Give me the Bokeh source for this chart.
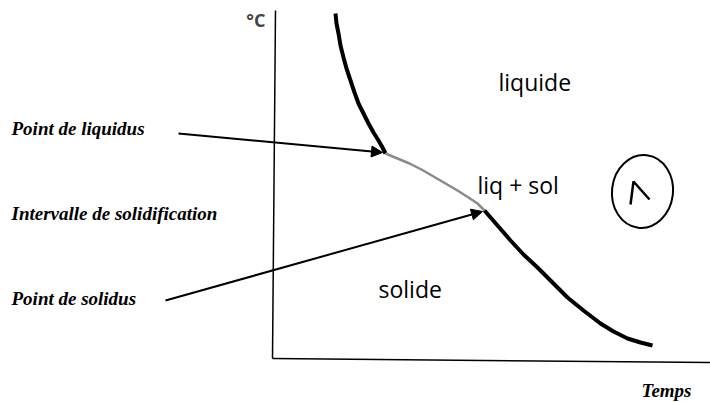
from bokeh.plotting import figure
from bokeh.models import Range1d, Arrow, NormalHead, Label
from bokeh.embed import file_html
from bokeh.resources import INLINE

# Cooling curve (time, temperature in arbitrary units)
liquid_t = [63, 64, 66, 68, 71, 74, 78, 82, 86, 91, 96, 101, 106, 110, 113]
liquid_T = [345, 335, 325, 313, 301, 290, 278, 266, 255, 245, 235, 226, 218, 211, 205]
mushy_t = [113, 125, 137, 149, 161, 173, 185, 196, 205, 212]
mushy_T = [205, 200, 195, 189, 182, 175, 168, 161, 155, 148]
solid_t = [212, 225, 238, 251, 265, 280, 295, 311, 328, 341, 355, 368, 380]
solid_T = [148, 133, 118, 104, 91, 76, 61, 48, 35, 27, 20, 16, 13]

liquidus_pt = (113, 205)
solidus_pt = (212, 148)

p = figure(width=710, height=402, output_backend="svg", toolbar_location=None,
           x_range=Range1d(-272, 438), y_range=Range1d(-44, 358), min_border=0)
p.axis.visible = False
p.grid.visible = False
p.outline_line_color = None
p.background_fill_color = "white"

# axes
p.line([0, 3], [0, 348], line_color="black", line_width=1.5)
p.line([0, 440], [0, -4], line_color="black", line_width=1.5)

# curve
p.line(liquid_t, liquid_T, line_color="black", line_width=4)
p.line(mushy_t, mushy_T, line_color="#8a8a8a", line_width=2.5)
p.line(solid_t, solid_T, line_color="black", line_width=4)

# arrows
p.add_layout(Arrow(end=NormalHead(size=11, fill_color="black", line_color="black"),
                   x_start=-94, y_start=225, x_end=liquidus_pt[0] - 3, y_end=liquidus_pt[1] + 1,
                   line_width=2, line_color="black"))
p.add_layout(Arrow(end=NormalHead(size=11, fill_color="black", line_color="black"),
                   x_start=-107, y_start=58, x_end=solidus_pt[0] - 2, y_end=solidus_pt[1] - 1,
                   line_width=2, line_color="black"))

serif = dict(text_font="Liberation Serif", text_font_style="bold italic",
             text_font_size="19px", text_color="black", text_baseline="middle")
sans = dict(text_font="Open Sans", text_font_size="23px", text_color="black",
            text_baseline="middle")

p.add_layout(Label(x=-261, y=230, text="Point de liquidus", **serif))
p.add_layout(Label(x=-261, y=145, text="Intervalle de solidification", **serif))
p.add_layout(Label(x=-261, y=60, text="Point de solidus", **serif))
p.add_layout(Label(x=394, y=-32, text="Temps", text_align="center", **serif))

p.add_layout(Label(x=226, y=277, text="liquide", **sans))
p.add_layout(Label(x=205, y=174, text="liq + sol", **sans))
p.add_layout(Label(x=106, y=70, text="solide", **sans))
p.add_layout(Label(x=-7, y=339, text="°C", text_align="right", text_font="Open Sans",
                   text_font_style="bold", text_font_size="18px", text_baseline="middle"))

# handwritten circled mark
p.ellipse(x=[370], y=[167], width=[61], height=[73], angle=-0.12,
          fill_color=None, line_color="black", line_width=2)
p.line([358, 361, 377], [154, 177, 159], line_color="black", line_width=2.5)

open("out.html", "w").write(file_html(p, INLINE))
